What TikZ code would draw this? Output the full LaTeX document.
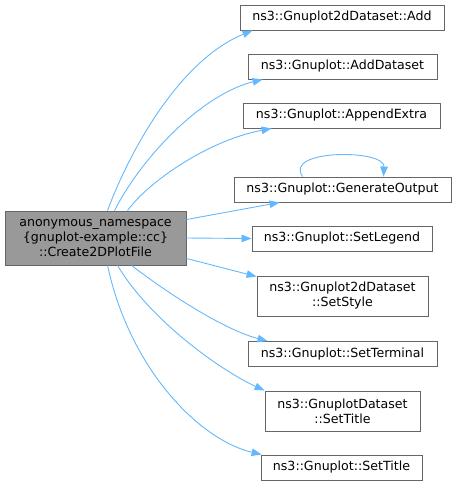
\documentclass[tikz,border=0pt]{standalone}
\usepackage{fontspec}
\setmainfont{DejaVu Sans}
\usetikzlibrary{arrows.meta}
\definecolor{edgeblue}{HTML}{63B8FF}
\definecolor{boxline}{HTML}{666666}
\definecolor{mainfill}{HTML}{999999}
\begin{document}
\begin{tikzpicture}[x=1pt,y=-1pt,
  box/.style={draw=boxline, line width=0.9pt, fill=white, inner sep=0pt, align=center,
    font=\fontsize{12.6}{15}\selectfont, text=black},
  mainbox/.style={box, fill=mainfill},
  call/.style={draw=edgeblue, line width=0.9pt, -{Triangle[length=10pt,width=7.5pt]}}]
\useasboundingbox (0,0) rectangle (456,485);
\node[mainbox, minimum width=181pt, minimum height=54pt] (main) at (95.5,238) {anonymous\_namespace\\\{gnuplot-example::cc\}\\::Create2DPlotFile};
\node[box, minimum width=204pt, minimum height=25pt] (n1) at (342,17.5) {ns3::Gnuplot2dDataset::Add};
\node[box, minimum width=189pt, minimum height=25pt] (n2) at (342.5,66.5) {ns3::Gnuplot::AddDataset};
\node[box, minimum width=197pt, minimum height=25pt] (n3) at (341.5,115.5) {ns3::Gnuplot::AppendExtra};
\node[box, minimum width=217pt, minimum height=25pt] (n4) at (342.5,189.5) {ns3::Gnuplot::GenerateOutput};
\node[box, minimum width=180pt, minimum height=25pt] (n5) at (342,238.5) {ns3::Gnuplot::SetLegend};
\node[box, minimum width=171pt, minimum height=40pt] (n6) at (342.5,296) {ns3::Gnuplot2dDataset\\::SetStyle};
\node[box, minimum width=189pt, minimum height=25pt] (n7) at (342.5,354) {ns3::Gnuplot::SetTerminal};
\node[box, minimum width=155pt, minimum height=40pt] (n8) at (342.5,411) {ns3::GnuplotDataset\\::SetTitle};
\node[box, minimum width=161pt, minimum height=25pt] (n9) at (341.5,467.5) {ns3::Gnuplot::SetTitle};
% edges
\draw[call] ([xshift=103pt]main.north west) .. controls (130,150) and (180,60) .. ([xshift=13pt]n1.south west);
\draw[call] ([xshift=110pt]main.north west) .. controls (140,160) and (200,95) .. ([xshift=15pt]n2.south west);
\draw[call] ([xshift=123pt]main.north west) .. controls (150,180) and (210,140) .. ([xshift=29pt]n3.south west);
\draw[call] ([yshift=-9pt]main.north east) -- ([xshift=46pt]n4.south west);
\draw[call] (main.east) -- (n5.west);
\draw[call] ([yshift=7pt]main.south east) -- ([yshift=-1pt]n6.north west);
\draw[call] ([xshift=127pt]main.south west) .. controls (170,295) and (225,330) .. ([xshift=20pt]n7.north west);
\draw[call] ([xshift=113pt]main.south west) .. controls (150,320) and (220,370) .. ([xshift=0pt]n8.north west);
\draw[call] ([xshift=103pt]main.south west) .. controls (130,370) and (200,440) .. ([xshift=1pt]n9.north west);
\draw[call] ([xshift=69pt]n4.north west) .. controls (283,149) and (385,149) .. ([xshift=150pt]n4.north west);
\end{tikzpicture}
\end{document}
